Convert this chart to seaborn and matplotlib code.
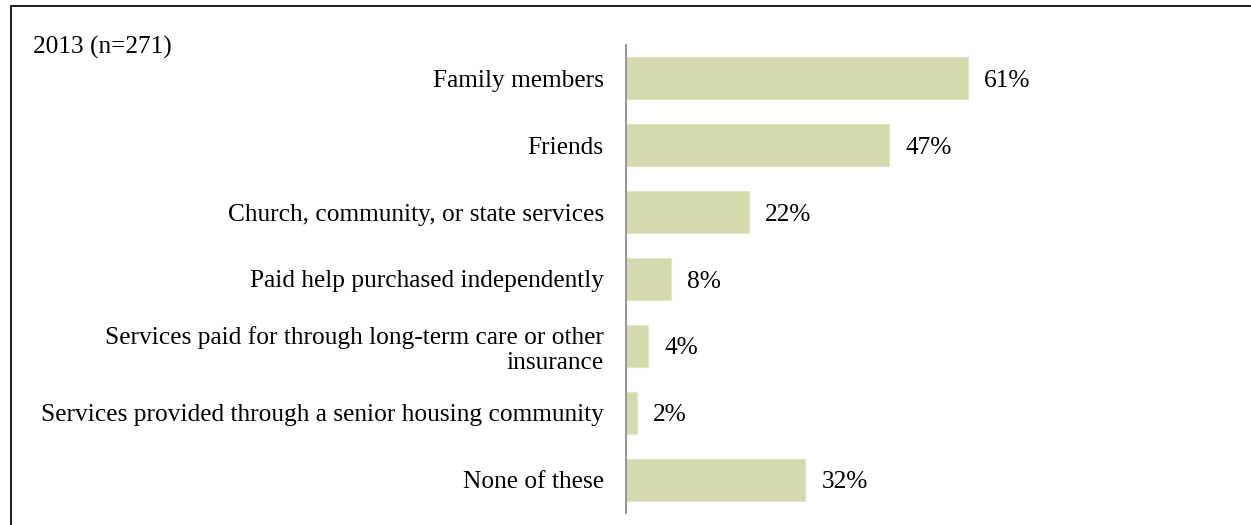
import matplotlib
matplotlib.use("Agg")
import matplotlib.pyplot as plt
import seaborn as sns
import pandas as pd
from matplotlib.lines import Line2D

# Survey responses: sources of help received
categories = [
    "Family members",
    "Friends",
    "Church, community, or state services",
    "Paid help purchased independently",
    "Services paid for through long-term care or other\ninsurance",
    "Services provided through a senior housing community",
    "None of these",
]
values = [61, 47, 22, 8, 4, 2, 32]
title = "2013 (n=271)"

sns.set_theme(style="white")
plt.rcParams["font.family"] = ["Liberation Serif", "DejaVu Serif"]

FS = 18.3

df = pd.DataFrame({"category": categories, "pct": values})

fig = plt.figure(figsize=(12.51, 5.25), dpi=100)
ax = fig.add_axes([626 / 1251, 1 - 513 / 525, 1 - 626 / 1251, (513 - 45) / 525])

sns.barplot(data=df, x="pct", y="category", orient="h", color="#D5D9AD",
            saturation=1, width=0.63, edgecolor="#E2E5C8", linewidth=0.8, ax=ax)

ax.set_xlim(0, 111.5)
ax.set_ylim(6.5, -0.5)
ax.set_xlabel("")
ax.set_ylabel("")
ax.set_xticks([])
ax.tick_params(axis="y", length=0, pad=16, labelsize=FS, colors="black")
for lab in ax.get_yticklabels():
    if "\n" in lab.get_text():
        lab.set_linespacing(1.18)
    else:
        lab.set_verticalalignment("center_baseline")

for side in ("top", "right", "bottom"):
    ax.spines[side].set_visible(False)
ax.spines["left"].set_color("#8C8C8C")
ax.spines["left"].set_linewidth(1.3)

labels = ax.bar_label(ax.containers[0], labels=[f"{v}%" for v in values],
                      padding=11.5, fontsize=FS, color="black")
for t in labels:
    t.set_verticalalignment("center_baseline")

fig.text(33 / 1251, 1 - 45 / 525, title, fontsize=FS, ha="left",
         va="center_baseline", color="black")

# Outer frame: top and left edges
fig.add_artist(Line2D([11 / 1251, 11 / 1251], [0, 1 - 6 / 525],
                      transform=fig.transFigure, color="#1a1a1a", linewidth=1.4))
fig.add_artist(Line2D([11 / 1251, 1], [1 - 6 / 525, 1 - 6 / 525],
                      transform=fig.transFigure, color="#1a1a1a", linewidth=1.4))

fig.savefig("out.png", dpi=100, facecolor="white")
